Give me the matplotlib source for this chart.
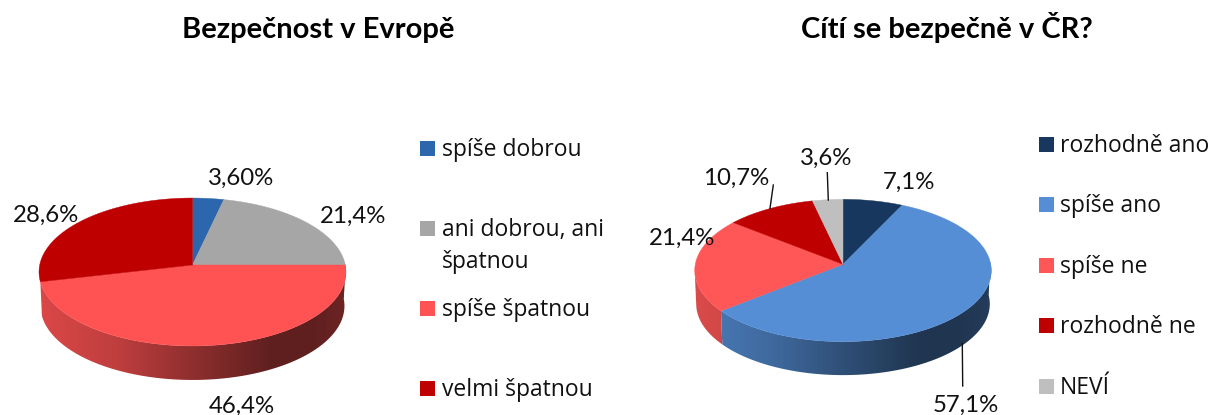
import numpy as np
import matplotlib
matplotlib.use('Agg')
import matplotlib.pyplot as plt
from matplotlib.patches import Rectangle, Polygon

# values
left_title = 'Bezpečnost v Evropě'
left_labels = ['spíše dobrou', 'ani dobrou, ani\nšpatnou', 'spíše špatnou', 'velmi špatnou']
left_values = [3.6, 21.4, 46.4, 28.6]
left_texts = ['3,60%', '21,4%', '46,4%', '28,6%']
left_colors = ['#2C67AE', '#A6A6A6', '#FF5353', '#BE0000']

right_title = 'Cítí se bezpečně v ČR?'
right_labels = ['rozhodně ano', 'spíše ano', 'spíše ne', 'rozhodně ne', 'NEVÍ']
right_values = [7.1, 57.1, 21.4, 10.7, 3.6]
right_texts = ['7,1%', '57,1%', '21,4%', '10,7%', '3,6%']
right_colors = ['#17375E', '#558ED5', '#FF5757', '#BE0000', '#BFBFBF']


def project(theta, cx, cy, R, A, k, depth=0, shrink=1.0):
    # theta is clockwise from the top, tilted circle with some perspective
    x = np.sin(theta)
    y = np.cos(theta)
    w = 1 + k * y
    return cx + R * shrink * x / w, cy - A * y / w + depth


def draw_pie(ax, values, colors, cx, cy, R, A, k, depth, side_end):
    edges = np.cumsum([0] + values) * 360 / sum(values)
    # side, one gradient per slice that shows at the front
    for i, c in enumerate(colors):
        a = max(edges[i], 88)
        b = min(edges[i + 1], side_end)
        if b <= a:
            continue
        t = np.radians(np.linspace(a, b, 150))
        x1, y1 = project(t, cx, cy, R, A, k)
        x2, y2 = project(t[::-1], cx, cy, R, A, k, depth, 0.99)
        pts = np.c_[np.r_[x1, x2], np.r_[y1, y2]]
        pos = np.linspace(-1.02, 1.02, 300)
        f = np.interp(pos, [-1, -0.5, 0, 0.5, 0.8, 1], [0.86, 0.75, 0.56, 0.38, 0.38, 0.43])
        img = np.outer(f, matplotlib.colors.to_rgb(c)).reshape(1, 300, 3)
        poly = Polygon(pts, closed=True, facecolor='none', edgecolor='none', transform=ax.transData)
        ax.add_patch(poly)
        im = ax.imshow(img, extent=(cx - 1.02 * R, cx + 1.02 * R, cy + 120, cy - 120), aspect='auto', zorder=1, interpolation='bilinear')
        im.set_clip_path(poly)
    # top face
    for i in range(len(values)):
        t = np.radians(np.linspace(edges[i], edges[i + 1], 120))
        x, y = project(t, cx, cy, R, A, k)
        ax.fill(np.r_[cx, x], np.r_[cy, y], color=colors[i], lw=0.3, zorder=2)


fig = plt.figure(figsize=(12.26, 4.15), dpi=100)
ax = fig.add_axes([0, 0, 1, 1])

draw_pie(ax, left_values, left_colors, 192.5, 265, 152.8, 73.3, 0.0946, 34, 257)
draw_pie(ax, right_values, right_colors, 843, 264.3, 147.7, 70.6, 0.0868, 33.5, 264)

ax.set_xlim(0, 1226)
ax.set_ylim(415, 0)
ax.axis('off')

# titles
ax.text(318, 38, left_title, family='Lato', weight='bold', fontsize=21, ha='center', va='baseline', color='#000000')
ax.text(947, 38, right_title, family='Lato', weight='bold', fontsize=21, ha='center', va='baseline', color='#000000')

# data labels
left_pos = [(241, 178), (353, 216), (242, 406), (46, 215)]
right_pos = [(909, 182), (966, 405), (682, 238), (736, 178), (826, 158)]
for s, (x, y) in zip(left_texts, left_pos):
    ax.text(x, y, s, family='Lato', fontsize=17.3, ha='center', va='center', color='#111111', zorder=5)
for s, (x, y) in zip(right_texts, right_pos):
    ax.text(x, y, s, family='Lato', fontsize=17.3, ha='center', va='center', color='#111111', zorder=5)

# leader lines
ax.plot([827.3, 828.3], [172.7, 200], color='#111111', lw=1, zorder=4)
ax.plot([773.3, 770], [185, 208.3], color='#111111', lw=1, zorder=4)
ax.plot([962.3, 962.7], [343.3, 386], color='#111111', lw=1, zorder=4)

# legends
left_rows = [148, 228, 308, 388]
for s, c, y in zip(left_labels, left_colors, left_rows):
    ax.add_patch(Rectangle((420, y - 7.5), 15, 15, color=c, lw=0))
    lines = s.split('\n')
    for n, line in enumerate(lines):
        ax.text(442, y + 2 + n * 32, line, family='Open Sans', fontsize=16.5, ha='left', va='center', color='#111111')

right_rows = [144.3, 204.3, 265.3, 325.3, 386.3]
for s, c, y in zip(right_labels, right_colors, right_rows):
    ax.add_patch(Rectangle((1039, y - 7.5), 15, 15, color=c, lw=0))
    ax.text(1060, y + 2, s, family='Open Sans', fontsize=16.5, ha='left', va='center', color='#111111')

fig.savefig('out.png', dpi=100)
